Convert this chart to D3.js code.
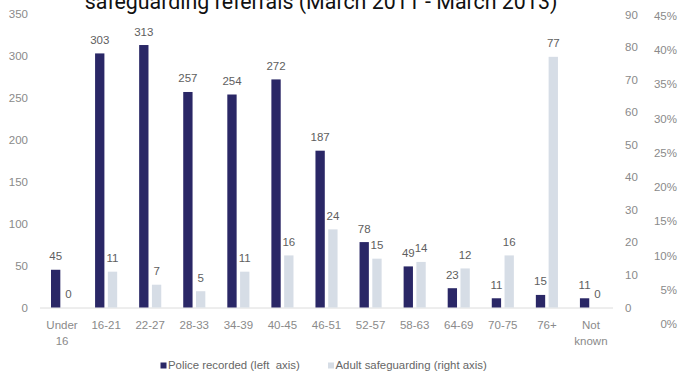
<!DOCTYPE html>
<html><head><meta charset="utf-8">
<script src="https://cdn.jsdelivr.net/npm/d3@7/dist/d3.min.js"></script>
<style>
html,body{margin:0;padding:0;background:#fff;}
svg{display:block;}
</style></head>
<body>
<svg id="chart" width="679" height="377"></svg>
<script>
const title = "safeguarding referrals (March 2011 - March 2013)";
const categories = ["Under 16","16-21","22-27","28-33","34-39","40-45","46-51","52-57","58-63","64-69","70-75","76+","Not known"];
const police = [45,303,313,257,254,272,187,78,49,23,11,15,11];
const adult  = [0,11,7,5,11,16,24,15,14,12,16,77,0];
const seriesNames = ["Police recorded (left  axis)","Adult safeguarding (right axis)"];
const leftTicks = [0,50,100,150,200,250,300,350];
const rightTicks = [0,10,20,30,40,50,60,70,80,90];
const pctTicks = [0,0.05,0.10,0.15,0.20,0.25,0.30,0.35,0.40,0.45];

const colPolice = "#2a2766", colAdult = "#d6dde6";
const tickCol = "#8a8a8a", valCol = "#5e5e5e";
const font = "'Liberation Sans', Arial, sans-serif";

const svg = d3.select("#chart");
const x = d3.scaleBand().domain(categories).range([40, 613]).padding(0);
const x1 = d3.scaleBand().domain(["police","adult"]).range([11, 33.1]).paddingInner(0.27).paddingOuter(0);
const yL = d3.scaleLinear().domain([0,350]).range([307.5, 14]);
const yR = d3.scaleLinear().domain([0,90]).range([307.5, 14.5]);
const yP = d3.scaleLinear().domain([0,0.45]).range([324, 16]);

// title (cut off at the top edge, as in the reference)
const t = svg.append("text").attr("x", 321).attr("y", 8.5).attr("text-anchor","middle")
  .attr("font-family","Roboto, 'Noto Sans', sans-serif").attr("font-size", 20).attr("fill","#111").text(title);
const w = t.node().getComputedTextLength();
t.attr("font-size", 20 * 473 / w);

// baseline
svg.append("line").attr("x1", 40).attr("x2", 613).attr("y1", yL(0)+0.5).attr("y2", yL(0)+0.5)
  .attr("stroke","#dcdcdc").attr("stroke-width",1);

// left axis labels
svg.append("g").selectAll("text").data(leftTicks).join("text")
  .attr("x", 28).attr("y", d => yL(d)).attr("dy","0.35em").attr("text-anchor","end")
  .attr("font-family",font).attr("font-size",11.5).attr("fill",tickCol).text(d => d);
// right number axis
svg.append("g").selectAll("text").data(rightTicks).join("text")
  .attr("x", 625).attr("y", d => yR(d)).attr("dy","0.35em").attr("text-anchor","start")
  .attr("font-family",font).attr("font-size",11.5).attr("fill",tickCol).text(d => d);
// right percent axis
svg.append("g").selectAll("text").data(pctTicks).join("text")
  .attr("x", 677).attr("y", d => yP(d)).attr("dy","0.35em").attr("text-anchor","end")
  .attr("font-family",font).attr("font-size",11.5).attr("fill",tickCol).text(d => d3.format(".0%")(d));

// category labels
const cat = svg.append("g").selectAll("text").data(categories).join("text")
  .attr("x", d => x(d) + x.bandwidth()/2).attr("y", 329).attr("text-anchor","middle")
  .attr("font-family",font).attr("font-size",11.5).attr("fill",tickCol);
cat.each(function(d){
  const parts = d.split(" ");
  const el = d3.select(this);
  parts.forEach((p,i) => el.append("tspan").attr("x", x(d)+x.bandwidth()/2).attr("dy", i===0?0:15.5).text(p));
});

// bars
const g = svg.append("g");
g.selectAll("rect.p").data(categories).join("rect").attr("class","p")
  .attr("x", d => x(d) + x1("police")).attr("width", x1.bandwidth())
  .attr("y", (d,i) => yL(police[i])).attr("height", (d,i) => yL(0) - yL(police[i]))
  .attr("fill", colPolice);
g.selectAll("rect.a").data(categories).join("rect").attr("class","a")
  .attr("x", d => x(d) + x1("adult")).attr("width", x1.bandwidth())
  .attr("y", (d,i) => yR(adult[i])).attr("height", (d,i) => yR(0) - yR(adult[i]))
  .attr("fill", colAdult);

// value labels
g.selectAll("text.pv").data(categories).join("text").attr("class","pv")
  .attr("x", d => x(d) + x1("police") + x1.bandwidth()/2)
  .attr("y", (d,i) => yL(police[i]) - 9.5).attr("text-anchor","middle")
  .attr("font-family",font).attr("font-size",11.5).attr("fill",valCol)
  .text((d,i) => police[i]);
g.selectAll("text.av").data(categories).join("text").attr("class","av")
  .attr("x", d => x(d) + x1("adult") + x1.bandwidth()/2)
  .attr("y", (d,i) => yR(adult[i]) - 9.5).attr("text-anchor","middle")
  .attr("font-family",font).attr("font-size",11.5).attr("fill",valCol)
  .text((d,i) => adult[i]);

// legend
const leg = [{x:160.5, c:colPolice, n:seriesNames[0]},{x:328, c:colAdult, n:seriesNames[1]}];
const lg = svg.append("g");
leg.forEach(l => {
  lg.append("rect").attr("x", l.x).attr("y", 362.5).attr("width",6).attr("height",6).attr("fill", l.c);
  lg.append("text").attr("x", l.x + 7.5).attr("y", 369).attr("font-family",font).attr("font-size",11.4)
    .attr("fill","#666").style("white-space","pre").text(l.n);
});
</script>
</body></html>
